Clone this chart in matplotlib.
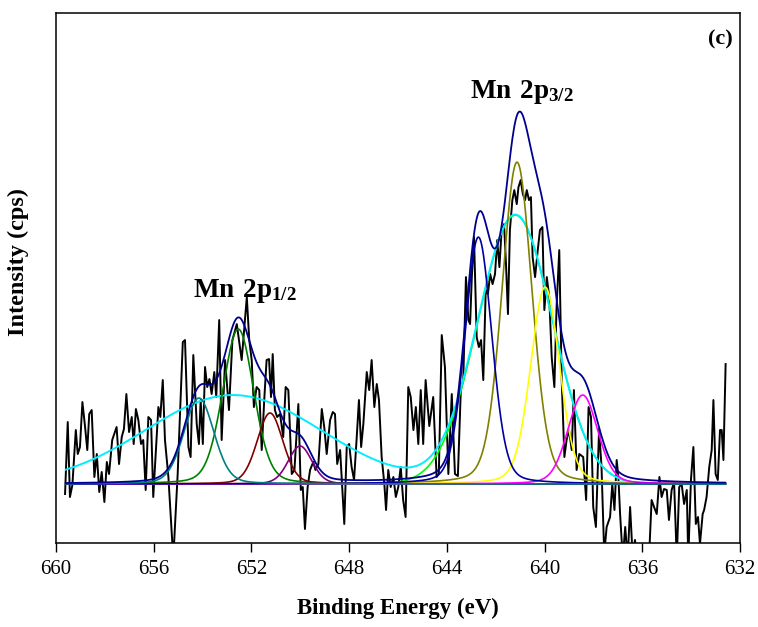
import numpy as np
import matplotlib.pyplot as plt

plt.rcParams['font.family'] = 'Liberation Serif'
plt.rcParams['mathtext.fontset'] = 'custom'
plt.rcParams['mathtext.rm'] = 'Liberation Serif'
plt.rcParams['mathtext.bf'] = 'Liberation Serif:bold'

# measured spectrum (binding energy in eV, intensity above fitted background)
be = [659.63, 659.52, 659.43, 659.33, 659.19, 659.11, 659.02, 658.92, 658.81, 658.72,
      658.64, 658.54, 658.43, 658.33, 658.23, 658.13, 658.02, 657.92, 657.83, 657.70,
      657.52, 657.42, 657.31, 657.22, 657.12, 657.01, 656.90, 656.82, 656.73, 656.63,
      656.52, 656.43, 656.33, 656.22, 656.11, 656.02, 655.81, 655.73, 655.63, 655.54,
      655.40, 655.20, 655.02, 654.81, 654.72, 654.58, 654.49, 654.38, 654.24, 654.15,
      654.08, 653.99, 653.90, 653.81, 653.72, 653.63, 653.52, 653.44, 653.32, 653.22,
      653.08, 652.92, 652.78, 652.60, 652.40, 652.19, 652.09, 651.99, 651.90, 651.79,
      651.68, 651.58, 651.47, 651.38, 651.28, 651.20, 651.13, 651.04, 650.95, 650.83,
      650.70, 650.60, 650.49, 650.35, 650.24, 650.08, 649.98, 649.90, 649.81, 649.70,
      649.60, 649.47, 649.38, 649.26, 649.12, 649.02, 648.92, 648.78, 648.67, 648.58,
      648.49, 648.37, 648.30, 648.20, 648.10, 648.00, 647.90, 647.80, 647.69, 647.60,
      647.51, 647.42, 647.28, 647.18, 647.08, 646.97, 646.87, 646.78, 646.67, 646.56,
      646.49, 646.40, 646.30, 646.19, 646.09, 645.99, 645.89, 645.79, 645.69, 645.58,
      645.48, 645.37, 645.27, 645.17, 645.07, 644.97, 644.87, 644.72, 644.56, 644.42,
      644.33, 644.21, 644.08, 643.94, 643.80, 643.67, 643.55, 643.43, 643.33, 643.22,
      643.12, 643.05, 642.98, 642.89, 642.78, 642.69, 642.60, 642.51, 642.41, 642.32,
      642.23, 642.13, 642.03, 641.94, 641.85, 641.76, 641.66, 641.58, 641.50, 641.42,
      641.32, 641.24, 641.14, 641.07, 640.98, 640.89, 640.80, 640.73, 640.64, 640.56,
      640.49, 640.39, 640.28, 640.19, 640.09, 640.01, 639.91, 639.81, 639.71, 639.60,
      639.51, 639.40, 639.30, 639.19, 639.10, 639.00, 638.89, 638.80, 638.69, 638.58,
      638.42, 638.30, 638.20, 638.10, 638.01, 637.90, 637.77, 637.67, 637.56, 637.46,
      637.32, 637.23, 637.14, 637.05, 636.98, 636.91, 636.80, 636.70, 636.60, 636.50,
      636.39, 636.30, 636.20, 636.10, 636.00, 635.89, 635.80, 635.70, 635.62, 635.52,
      635.41, 635.30, 635.21, 635.11, 635.00, 634.91, 634.80, 634.70, 634.59, 634.49,
      634.39, 634.29, 634.18, 634.12, 634.01, 633.91, 633.81, 633.72, 633.64, 633.53,
      633.47, 633.37, 633.26, 633.16, 633.09, 633.00, 632.91, 632.82, 632.75, 632.68,
      632.59]
counts = [-10, 62, -13, -1, 54, 30, 37, 82, 57, 34,
          70, 74, 7, 30, -8, 12, -18, 22, 10, 44,
          57, 20, 47, 55, 90, 52, 67, 40, 75, 64,
          40, 44, -6, 67, 64, -13, 77, 67, 104, 44,
          7, -75, 10, 142, 144, 37, 27, 129, 60, 40,
          84, 40, 117, 97, 105, 90, 112, 87, 164, 44,
          124, 74, 144, 160, 124, 187, 144, 124, 77, 97,
          94, 34, 87, 124, 125, 87, 130, 74, 67, 70,
          47, 97, 94, 10, 14, 80, -6, -3, -45, -3,
          14, 22, 14, 20, 75, 57, 30, 64, 72, 70,
          20, 34, 4, -40, 37, 40, 17, 4, 47, 84,
          37, 60, 112, 94, 124, 77, 100, 84, 27, 0,
          -26, 14, -3, 7, -13, -3, 17, -16, -33, 97,
          87, 54, 77, 40, 94, 40, 104, 58, 87, 7,
          10, 149, 117, 10, 90, 10, 8, 94, 104, 207,
          164, 160, 207, 247, 147, 137, 144, 104, 194, 190,
          210, 200, 210, 244, 217, 254, 260, 220, 170, 254,
          284, 294, 280, 297, 304, 290, 284, 294, 284, 287,
          227, 207, 234, 254, 257, 174, 207, 187, 127, 97,
          177, 234, 104, 27, 44, 54, 34, 94, 14, 30,
          27, -16, 77, 67, -23, -43, 55, 17, -70, -43,
          -33, 0, -26, 24, 7, -30, -75, -43, -75, -23,
          -75, -56, -80, -70, -85, -80, -80, -60, -16, -23,
          -30, 7, -13, -5, -6, -36, -6, 2, -75, -3,
          0, -20, -6, -75, 4, 37, -40, -33, -60, -30,
          -26, -13, 17, 34, 84, 10, 4, 54, 54, 24,
          120]

# fitted components (pseudo-Voigt): 2p1/2 then 2p3/2
peak_centre = [654.15, 652.54, 651.24, 650.01, 642.71, 641.13, 639.98, 638.44]
peak_height = [86, 155, 71, 38, 247, 322, 197, 89]
peak_fwhm = [1.45, 1.5, 1.25, 1.15, 1.3, 1.45, 1.4, 1.45]
peak_colour = ['#008080', '#008000', '#800000', '#800080',
               '#0000a0', '#808000', '#ffff00', '#ff00ff']

# broad components (gaussian)
broad_centre = [652.75, 641.2]
broad_height = [89, 269]
broad_fwhm = [8.45, 3.6]

fit_range = (659.6, 632.6)


def pvoigt(x, c, h, w, m=0.2):
    g = np.exp(-4 * np.log(2) * (x - c) ** 2 / w ** 2)
    l = 1 / (1 + 4 * (x - c) ** 2 / w ** 2)
    return h * ((1 - m) * g + m * l)


def gauss(x, c, h, w):
    return h * np.exp(-4 * np.log(2) * (x - c) ** 2 / w ** 2)


fig = plt.figure(figsize=(7.58, 6.27), dpi=100)
ax = fig.add_axes([0.0739, 0.134, 0.9024, 0.845])

ax.plot(be, counts, color='black', lw=1.4, zorder=1)

x = np.linspace(fit_range[0], fit_range[1], 800)
b1 = gauss(x, broad_centre[0], broad_height[0], broad_fwhm[0])
b2 = gauss(x, broad_centre[1], broad_height[1], broad_fwhm[1])
ax.plot(x, b2, color='#00ff00', lw=1.2, zorder=2)
ax.plot(x, b1 + b2, color='#00eeff', lw=1.4, zorder=2)

comps = [pvoigt(x, c, h, w) for c, h, w in zip(peak_centre, peak_height, peak_fwhm)]
order = [1, 2, 3, 5, 6, 7, 4, 0]
for i in order:
    ax.plot(x, comps[i], color=peak_colour[i], lw=1.2, zorder=3)
ax.plot(x, np.sum(comps, axis=0), color='#000090', lw=1.3, zorder=4)

ax.set_xlim(660, 632)
ax.set_ylim(-59, 471)
ax.set_xticks(np.arange(660, 631, -4))
ax.set_yticks([])
ax.tick_params(axis='x', direction='out', length=6.5, width=1, labelsize=15, pad=6)
for s in ax.spines.values():
    s.set_linewidth(1.1)

ax.set_xlabel('Binding Energy (eV)', fontsize=16.5, fontweight='bold', labelpad=13)
ax.set_ylabel('Intensity (cps)', fontsize=17.5, fontweight='bold')
ax.yaxis.set_label_coords(-0.04, 0.53)

ax.text(654.4, 187, r'$\mathbf{Mn\ 2p_{1/2}}$', fontsize=19.5)
ax.text(643.05, 386, r'$\mathbf{Mn\ 2p_{3/2}}$', fontsize=19.5)
ax.text(632.3, 445, '(c)', fontsize=16, fontweight='bold', ha='right', va='center')

fig.savefig('out.png', dpi=100)
